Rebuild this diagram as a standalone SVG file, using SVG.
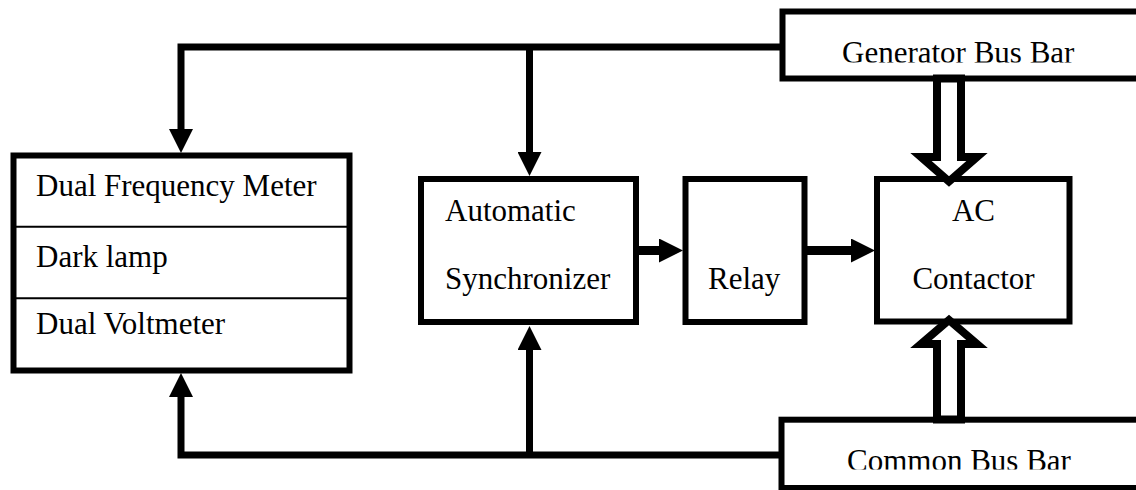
<svg xmlns="http://www.w3.org/2000/svg" width="1136" height="490" viewBox="0 0 1136 490">
  <style>
    .box { fill: #fff; stroke: #000; stroke-width: 6; }
    .div { stroke: #000; stroke-width: 2; }
    .t { font-size: 31px; fill: #000; }
    .c { text-anchor: middle; }
    .wire { fill: none; stroke: #000; stroke-width: 7; stroke-linejoin: miter; stroke-linecap: butt; }
    .sig { fill: none; stroke: #000; stroke-width: 9; stroke-linecap: butt; }
    .hollow { fill: #fff; stroke: #000; stroke-width: 8; stroke-linejoin: miter; stroke-miterlimit: 10; }
  </style>
  <defs>
    <marker id="ah" markerUnits="userSpaceOnUse" viewBox="0 0 24 24" markerWidth="24" markerHeight="24" refX="0" refY="12" orient="auto">
      <path d="M0,0 L24,12 L0,24 z" fill="#000"/>
    </marker>
    <clipPath id="clipGen"><rect x="780" y="0" width="360" height="62.5"/></clipPath>
    <clipPath id="clipCom"><rect x="780" y="420" width="360" height="49.5"/></clipPath>
  </defs>
  <rect width="1136" height="490" fill="#fff"/>

  <g font-family="'Liberation Serif', 'Times New Roman', Times, serif">
  <g id="meters">
    <rect class="box" x="13.5" y="155.5" width="336" height="215"/>
    <line class="div" x1="16" y1="226.7" x2="347" y2="226.7"/>
    <line class="div" x1="16" y1="298.3" x2="347" y2="298.3"/>
    <text class="t" x="36" y="196">Dual Frequency Meter</text>
    <text class="t" x="36" y="267">Dark lamp</text>
    <text class="t" x="36" y="334">Dual Voltmeter</text>
  </g>

  <g id="synchronizer">
    <rect class="box" x="421" y="179" width="215" height="143"/>
    <text class="t" x="445" y="221">Automatic</text>
    <text class="t" x="445" y="289">Synchronizer</text>
  </g>

  <g id="relay">
    <rect class="box" x="685.5" y="179" width="119" height="143"/>
    <text class="t" x="708" y="289">Relay</text>
  </g>

  <g id="contactor">
    <rect class="box" x="877" y="179" width="192.5" height="142.5"/>
    <text class="t c" x="973.5" y="221">AC</text>
    <text class="t c" x="973.5" y="289">Contactor</text>
  </g>

  <g id="generator-bus">
    <rect class="box" x="782.5" y="11.5" width="400" height="67"/>
    <text class="t" x="842" y="63" clip-path="url(#clipGen)">Generator Bus Bar</text>
  </g>

  <g id="common-bus">
    <rect class="box" x="781.5" y="419.7" width="400" height="68.3"/>
    <text class="t" x="847" y="471" clip-path="url(#clipCom)">Common Bus Bar</text>
  </g>
  </g>

  <g id="connectors">
    <path class="wire" d="M782,47 H181 V129" marker-end="url(#ah)"/>
    <path class="wire" d="M529.5,47 V152" marker-end="url(#ah)"/>
    <path class="wire" d="M781,455 H181 V397" marker-end="url(#ah)"/>
    <path class="wire" d="M529.5,455 V350" marker-end="url(#ah)"/>
    <path class="sig" d="M639,250.5 H659" marker-end="url(#ah)"/>
    <path class="sig" d="M807,250.5 H851" marker-end="url(#ah)"/>
    <polygon class="hollow" points="937,78.5 961,78.5 961,157 977,157 949,181.5 921,157 937,157"/>
    <polygon class="hollow" points="937,419.5 961,419.5 961,344 977,344 949,320 921,344 937,344"/>
  </g>
</svg>
